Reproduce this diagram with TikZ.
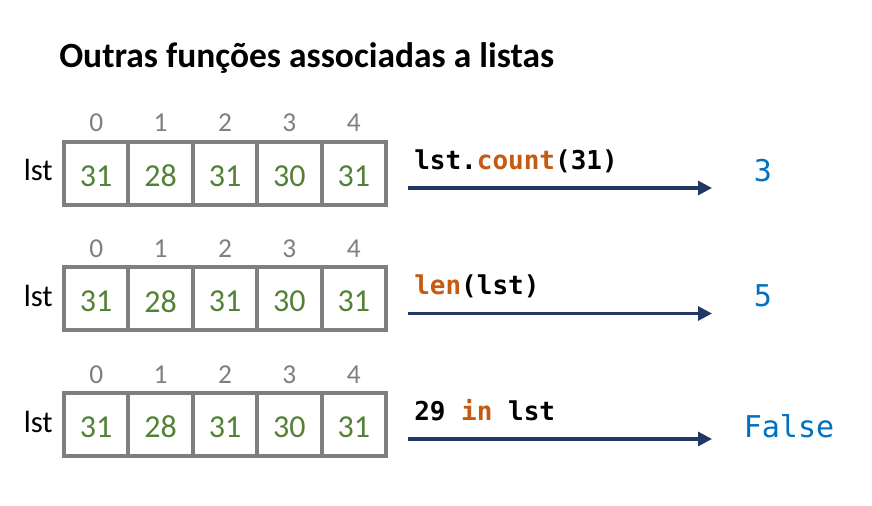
\documentclass[tikz,border=0pt]{standalone}
\usepackage{fontspec}
\setmainfont{Carlito}
\newfontfamily\codefont{DejaVu Sans Mono}
\usetikzlibrary{arrows.meta}
\definecolor{cellgray}{HTML}{7F7F7F}
\definecolor{numgreen}{HTML}{538135}
\definecolor{kwor}{HTML}{C55A11}
\definecolor{resblue}{HTML}{0070C0}
\definecolor{arrownavy}{HTML}{203864}

\begin{document}
\begin{tikzpicture}[x=0.75pt,y=-0.75pt,
  cell/.style={draw=cellgray,line width=3pt,minimum width=48.3pt,minimum height=47.25pt,inner sep=0pt},
  val/.style={inner sep=0pt,text=numgreen,font=\fontsize{24}{28}\selectfont},
  idx/.style={anchor=base,inner sep=0pt,text=cellgray,font=\fontsize{20.5}{24}\selectfont},
  lstlabel/.style={anchor=base east,inner sep=0pt,font=\fontsize{23}{27}\selectfont},
  code/.style={anchor=base west,inner sep=0pt,font=\codefont\bfseries\fontsize{19.5}{23}\selectfont},
  res/.style={text=resblue,font=\codefont\fontsize{22.5}{27}\selectfont},
  flow/.style={draw=arrownavy,line width=2.3pt,-{Triangle[length=10.5pt,width=10.5pt]}}]
\useasboundingbox (0,0) rectangle (872,506);
\node[anchor=base west,inner sep=0pt,font=\bfseries\fontsize{26.6}{32}\selectfont] (title) at (59,68) {Outras funções associadas a listas};
\foreach \r [evaluate=\r as \y using 173.5+125.5*\r] in {0,1,2}{
  \node[lstlabel] (lst\r) at (53,\y+7.5) {lst};
  \foreach \v [count=\i from 0] in {31,28,31,30,31}{
    \node[cell] (c\r-\i) at ({96.2+64.4*\i},\y) {};
    \node[val] (v\r-\i) at ({96.2+64.4*\i},\y+2.5) {\v};
    \node[idx] (i\r-\i) at ({96.2+64.4*\i},\y-41.5) {\i};
  }
  \coordinate (a\r) at (408,\y+14.5);
  \coordinate (b\r) at (712,\y+14.5);
  \draw[flow] (a\r) -- (b\r);
}
\node[code] (code0) at (414,170) {lst.{\color{kwor}count}(31)};
\node[code] (code1) at (414,295) {{\color{kwor}len}(lst)};
\node[code] (code2) at (414,420) {29 {\color{kwor}in} lst};
\node[res] (res0) at (763,171) {3};
\node[res] (res1) at (763,296) {5};
\node[res] (res2) at (789,426) {False};
\end{tikzpicture}
\end{document}
